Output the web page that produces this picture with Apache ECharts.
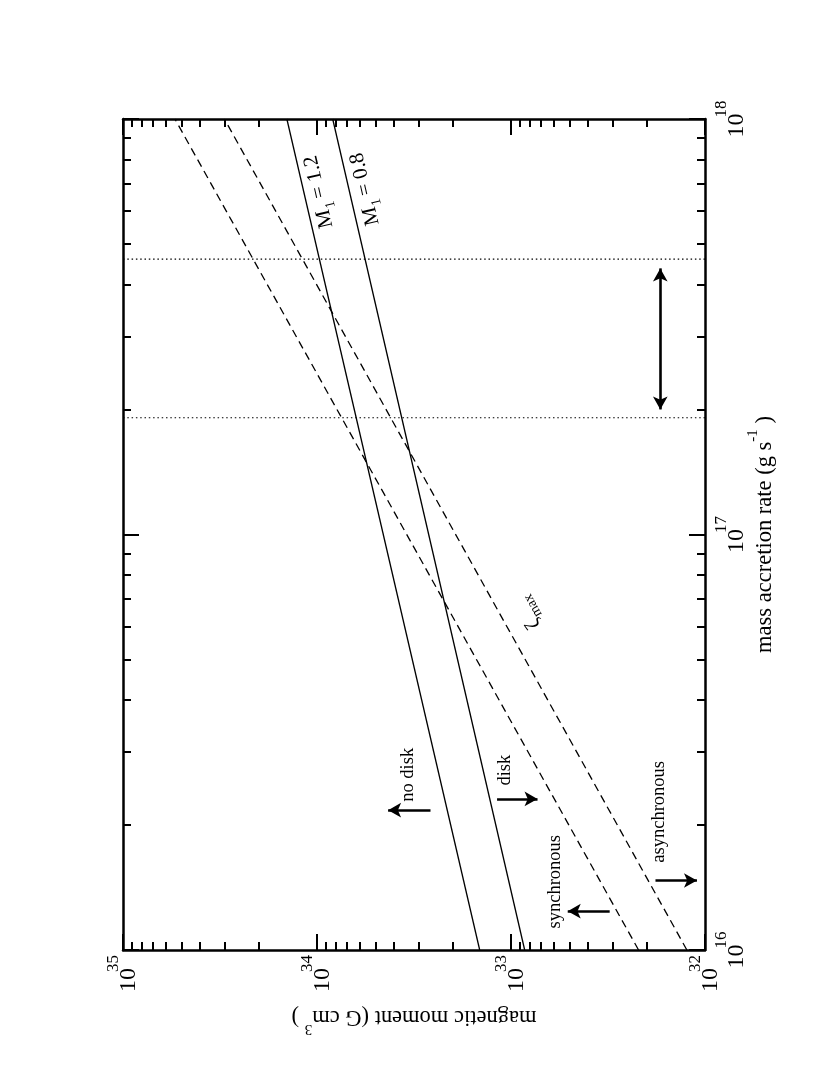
<!DOCTYPE html>
<html>
<head>
<meta charset="utf-8">
<script src="https://cdn.jsdelivr.net/npm/echarts@6/dist/echarts.min.js"></script>
<style>
    html, body { margin: 0; padding: 0; background: #fff; }
    #chart { width: 830px; height: 1075px; }
</style>
</head>
<body>
<div id="chart"></div>
<script>
// Figure is printed rotated: moment runs right->left, accretion rate bottom->top

// mass accretion rate (g s^-1) at both ends of the model lines
const rateEnds = [1e16, 1e18];
// magnetic moment (G cm^3) of each model line at those rates
const muM12 = [1.45e33, 1.43e34];
const muM08 = [8.5e32, 8.3e33];
const muSync = [2.2e32, 5.4e34];
const muZetaMax = [1.24e32, 3.0e34];

// observed accretion-rate range (dotted) and its double arrow
const rateRange = [1.91e17, 4.6e17];
const rangeArrowMu = 1.7e32;
const rangeArrowRate = [2.0e17, 4.37e17];

// region arrows: [moment from, moment to, rate]
const regionArrows = [
    [2.6e33, 4.3e33, 2.17e16],   // no disk
    [1.18e33, 7.3e32, 2.31e16],  // disk
    [3.1e32, 5.1e32, 1.24e16],   // synchronous
    [1.8e32, 1.1e32, 1.47e16]    // asynchronous
];

// tick decades (exponents) and minor tick multipliers
const muDecades = [32, 33, 34, 35];
const rateDecades = [16, 17, 18];
const minorMultipliers = [2, 3, 4, 5, 6, 7, 8, 9];

// text notes: [rich text, moment, rate, angle in degrees]
const notes = [
    ['{a|M}{sub|1}{a| = 1.2}', 9.5e33, 6.7e17, 103],
    ['{a|M}{sub|1}{a| = 0.8}', 5.5e33, 6.8e17, 103],
    ['{a|ζ}{sub|max}', 8.0e32, 6.5e16, 119],
    ['{n|no disk}', 3.4e33, 2.64e16, 90],
    ['{n|disk}', 1.07e33, 2.71e16, 90],
    ['{n|synchronous}', 5.9e32, 1.46e16, 90],
    ['{n|asynchronous}', 1.73e32, 2.15e16, 90]
];

const serif = '"Liberation Serif", "Times New Roman", serif';
const lg = Math.log10;
const pt = (mu, rate) => [lg(mu), lg(rate)];

function minorTicks(decades) {
    const out = [];
    for (let i = 0; i < decades.length - 1; i++) {
        minorMultipliers.forEach(m => out.push(decades[i] + lg(m)));
    }
    return out;
}

const powRich = {
    b: { fontFamily: serif, fontSize: 24, lineHeight: 36, verticalAlign: 'bottom', padding: [0, -4, 0, 0], color: '#000' },
    s: { fontFamily: serif, fontSize: 17, lineHeight: 17, verticalAlign: 'top', color: '#000' }
};

const noteRich = {
    a: { fontFamily: serif, fontSize: 21, lineHeight: 26, verticalAlign: 'top', color: '#000' },
    sub: { fontFamily: serif, fontSize: 14, lineHeight: 14, verticalAlign: 'bottom', color: '#000' },
    n: { fontFamily: serif, fontSize: 18.5, lineHeight: 22, color: '#000' }
};

const titleRich = {
    a: { fontFamily: serif, fontSize: 22.5, lineHeight: 31, verticalAlign: 'bottom', color: '#000' },
    s: { fontFamily: serif, fontSize: 15, lineHeight: 15, verticalAlign: 'top', color: '#000' }
};

function makeAxis(dim, gridIndex, position, major, showLabel) {
    const isX = dim === 'x';
    const decades = isX ? muDecades : rateDecades;
    const axis = {
        type: 'value',
        gridIndex: gridIndex,
        position: position,
        min: decades[0],
        max: decades[decades.length - 1],
        interval: 1,
        inverse: isX,
        splitLine: { show: false },
        axisLine: { show: major, lineStyle: { color: '#000', width: 2.5 } },
        axisTick: {
            inside: true,
            length: major ? 16 : 8,
            lineStyle: { color: '#000', width: 2 }
        },
        axisLabel: { show: false }
    };
    if (!major) axis.axisTick.customValues = minorTicks(decades);
    if (showLabel) {
        axis.axisLabel = {
            show: true,
            rotate: 90,
            margin: isX ? 5 : 8,
            formatter: v => '{b|10}{s|' + v + '}',
            rich: powRich
        };
    }
    return axis;
}

function modelLine(name, mus, dashed) {
    return {
        name: name,
        type: 'line',
        xAxisIndex: 0,
        yAxisIndex: 0,
        symbol: 'none',
        silent: true,
        data: mus.map((mu, i) => pt(mu, rateEnds[i])),
        lineStyle: { color: '#000', width: 1.3, type: dashed ? [8, 5] : 'solid' }
    };
}

function dottedLine(rate) {
    return {
        type: 'line',
        xAxisIndex: 0,
        yAxisIndex: 0,
        symbol: 'none',
        silent: true,
        data: [[muDecades[0], lg(rate)], [muDecades[muDecades.length - 1], lg(rate)]],
        lineStyle: { color: '#000', width: 1.2, type: [1.5, 2.8] }
    };
}

const arrowLines = regionArrows.map(a => [
    { coord: pt(a[0], a[2]) },
    { coord: pt(a[1], a[2]) }
]);
arrowLines.push([
    { coord: pt(rangeArrowMu, rangeArrowRate[0]), symbol: 'arrow' },
    { coord: pt(rangeArrowMu, rangeArrowRate[1]) }
]);

const gridBox = { left: 123, right: 125, top: 119, bottom: 125 };

const option = {
    animation: false,
    backgroundColor: '#fff',
    grid: [Object.assign({}, gridBox), Object.assign({}, gridBox)],
    xAxis: [
        makeAxis('x', 0, 'bottom', true, true),
        makeAxis('x', 0, 'top', true, false),
        makeAxis('x', 1, 'bottom', false, false),
        makeAxis('x', 1, 'top', false, false)
    ],
    yAxis: [
        makeAxis('y', 0, 'right', true, true),
        makeAxis('y', 0, 'left', true, false),
        makeAxis('y', 1, 'right', false, false),
        makeAxis('y', 1, 'left', false, false)
    ],
    series: [
        modelLine('M1 = 1.2', muM12, false),
        modelLine('M1 = 0.8', muM08, false),
        modelLine('synchronous', muSync, true),
        modelLine('zeta max', muZetaMax, true),
        Object.assign(dottedLine(rateRange[0]), {
            markLine: {
                silent: true,
                symbol: ['none', 'arrow'],
                symbolSize: [11, 13],
                label: { show: false },
                lineStyle: { color: '#000', width: 2.6, type: 'solid' },
                data: arrowLines
            }
        }),
        dottedLine(rateRange[1])
    ]
};

const chart = echarts.init(document.getElementById('chart'));
chart.setOption(option);

const toPx = (mu, rate) => chart.convertToPixel({ xAxisIndex: 0, yAxisIndex: 0 }, pt(mu, rate));

const graphics = notes.map(n => {
    const p = toPx(n[1], n[2]);
    return {
        type: 'text',
        x: p[0],
        y: p[1],
        rotation: n[3] * Math.PI / 180,
        silent: true,
        style: { text: n[0], rich: noteRich, align: 'center', verticalAlign: 'middle' }
    };
});

// axis titles
const rateMid = chart.convertToPixel({ xAxisIndex: 0, yAxisIndex: 0 }, [muDecades[0], 17]);
graphics.push({
    type: 'text',
    x: rateMid[0] + 56,
    y: rateMid[1],
    rotation: Math.PI / 2,
    silent: true,
    style: { text: '{a|mass accretion rate (g s}{s|-1}{a| )}', rich: titleRich, align: 'center', verticalAlign: 'middle' }
});
const muMid = chart.convertToPixel({ xAxisIndex: 0, yAxisIndex: 0 }, [33.5, rateDecades[0]]);
graphics.push({
    type: 'text',
    x: muMid[0],
    y: muMid[1] + 71,
    rotation: Math.PI,
    silent: true,
    style: { text: '{a|magnetic moment (G cm}{s|3}{a| )}', rich: titleRich, align: 'center', verticalAlign: 'middle' }
});

chart.setOption({ graphic: graphics });
</script>
</body>
</html>
